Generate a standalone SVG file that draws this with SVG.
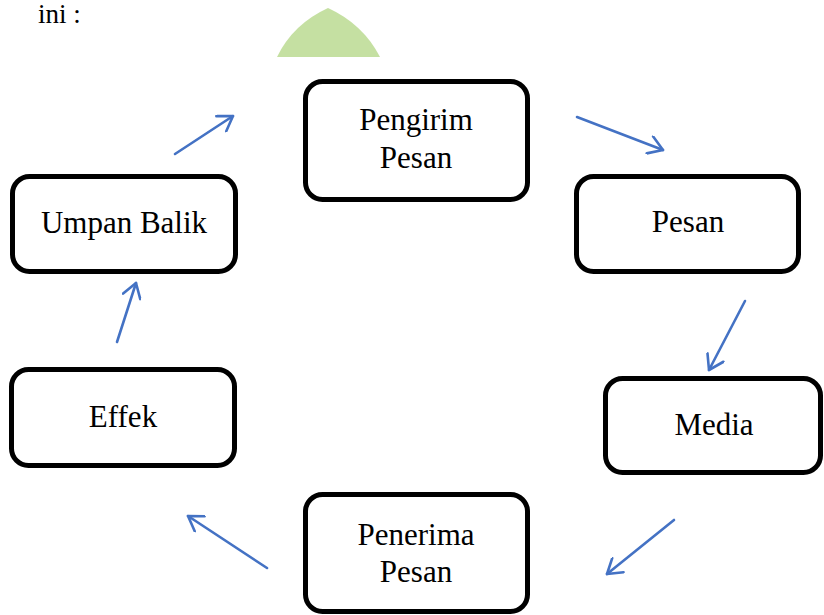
<svg xmlns="http://www.w3.org/2000/svg" width="824" height="615" viewBox="0 0 824 615">
<defs>
<style>
.box{fill:#fff;stroke:#000;stroke-width:5}
.t{font-size:31px;fill:#000;text-anchor:middle}
.c{fill:none;stroke:#4472C4;stroke-width:2.6;stroke-linecap:round}
</style>
<marker id="ah" viewBox="0 0 20 20" refX="17" refY="10" markerWidth="20" markerHeight="20" markerUnits="userSpaceOnUse" orient="auto">
<path d="M3,1 L17,10 L3,19" fill="none" stroke="#4472C4" stroke-width="2.6" stroke-linecap="round" stroke-linejoin="round"/>
</marker>
</defs>
<rect width="824" height="615" fill="#fff"/>
<g font-family="Liberation Serif, DejaVu Serif, serif">
<text x="38" y="23" font-size="27">ini :</text>
<path d="M277,57 Q293,24 328,8 Q363,24 380,57 Z" fill="#C5E0A2"/>
<g id="connectors">
<line class="c" x1="175" y1="154" x2="233" y2="116" marker-end="url(#ah)"/>
<line class="c" x1="577" y1="117" x2="663" y2="150" marker-end="url(#ah)"/>
<line class="c" x1="745" y1="301" x2="709" y2="370" marker-end="url(#ah)"/>
<line class="c" x1="674" y1="520" x2="607" y2="574" marker-end="url(#ah)"/>
<line class="c" x1="267" y1="568" x2="188" y2="516" marker-end="url(#ah)"/>
<line class="c" x1="117" y1="342" x2="136" y2="283" marker-end="url(#ah)"/>
</g>
<g id="pengirim">
<rect class="box" x="305.5" y="81.5" width="222" height="118" rx="17"/>
<text class="t" x="416" y="130">Pengirim</text>
<text class="t" x="416" y="168">Pesan</text>
</g>
<g id="pesan">
<rect class="box" x="576.5" y="176.5" width="222" height="95" rx="17"/>
<text class="t" x="688" y="232">Pesan</text>
</g>
<g id="media">
<rect class="box" x="605.5" y="378.5" width="215" height="94" rx="17"/>
<text class="t" x="714" y="435">Media</text>
</g>
<g id="penerima">
<rect class="box" x="305.5" y="494.5" width="222" height="117" rx="17"/>
<text class="t" x="416" y="545">Penerima</text>
<text class="t" x="416" y="582">Pesan</text>
</g>
<g id="effek">
<rect class="box" x="11.5" y="369.5" width="223" height="96" rx="17"/>
<text class="t" x="123" y="427">Effek</text>
</g>
<g id="umpan">
<rect class="box" x="12.5" y="176.5" width="223" height="95" rx="17"/>
<text class="t" x="124" y="233">Umpan Balik</text>
</g>
</g>
</svg>
